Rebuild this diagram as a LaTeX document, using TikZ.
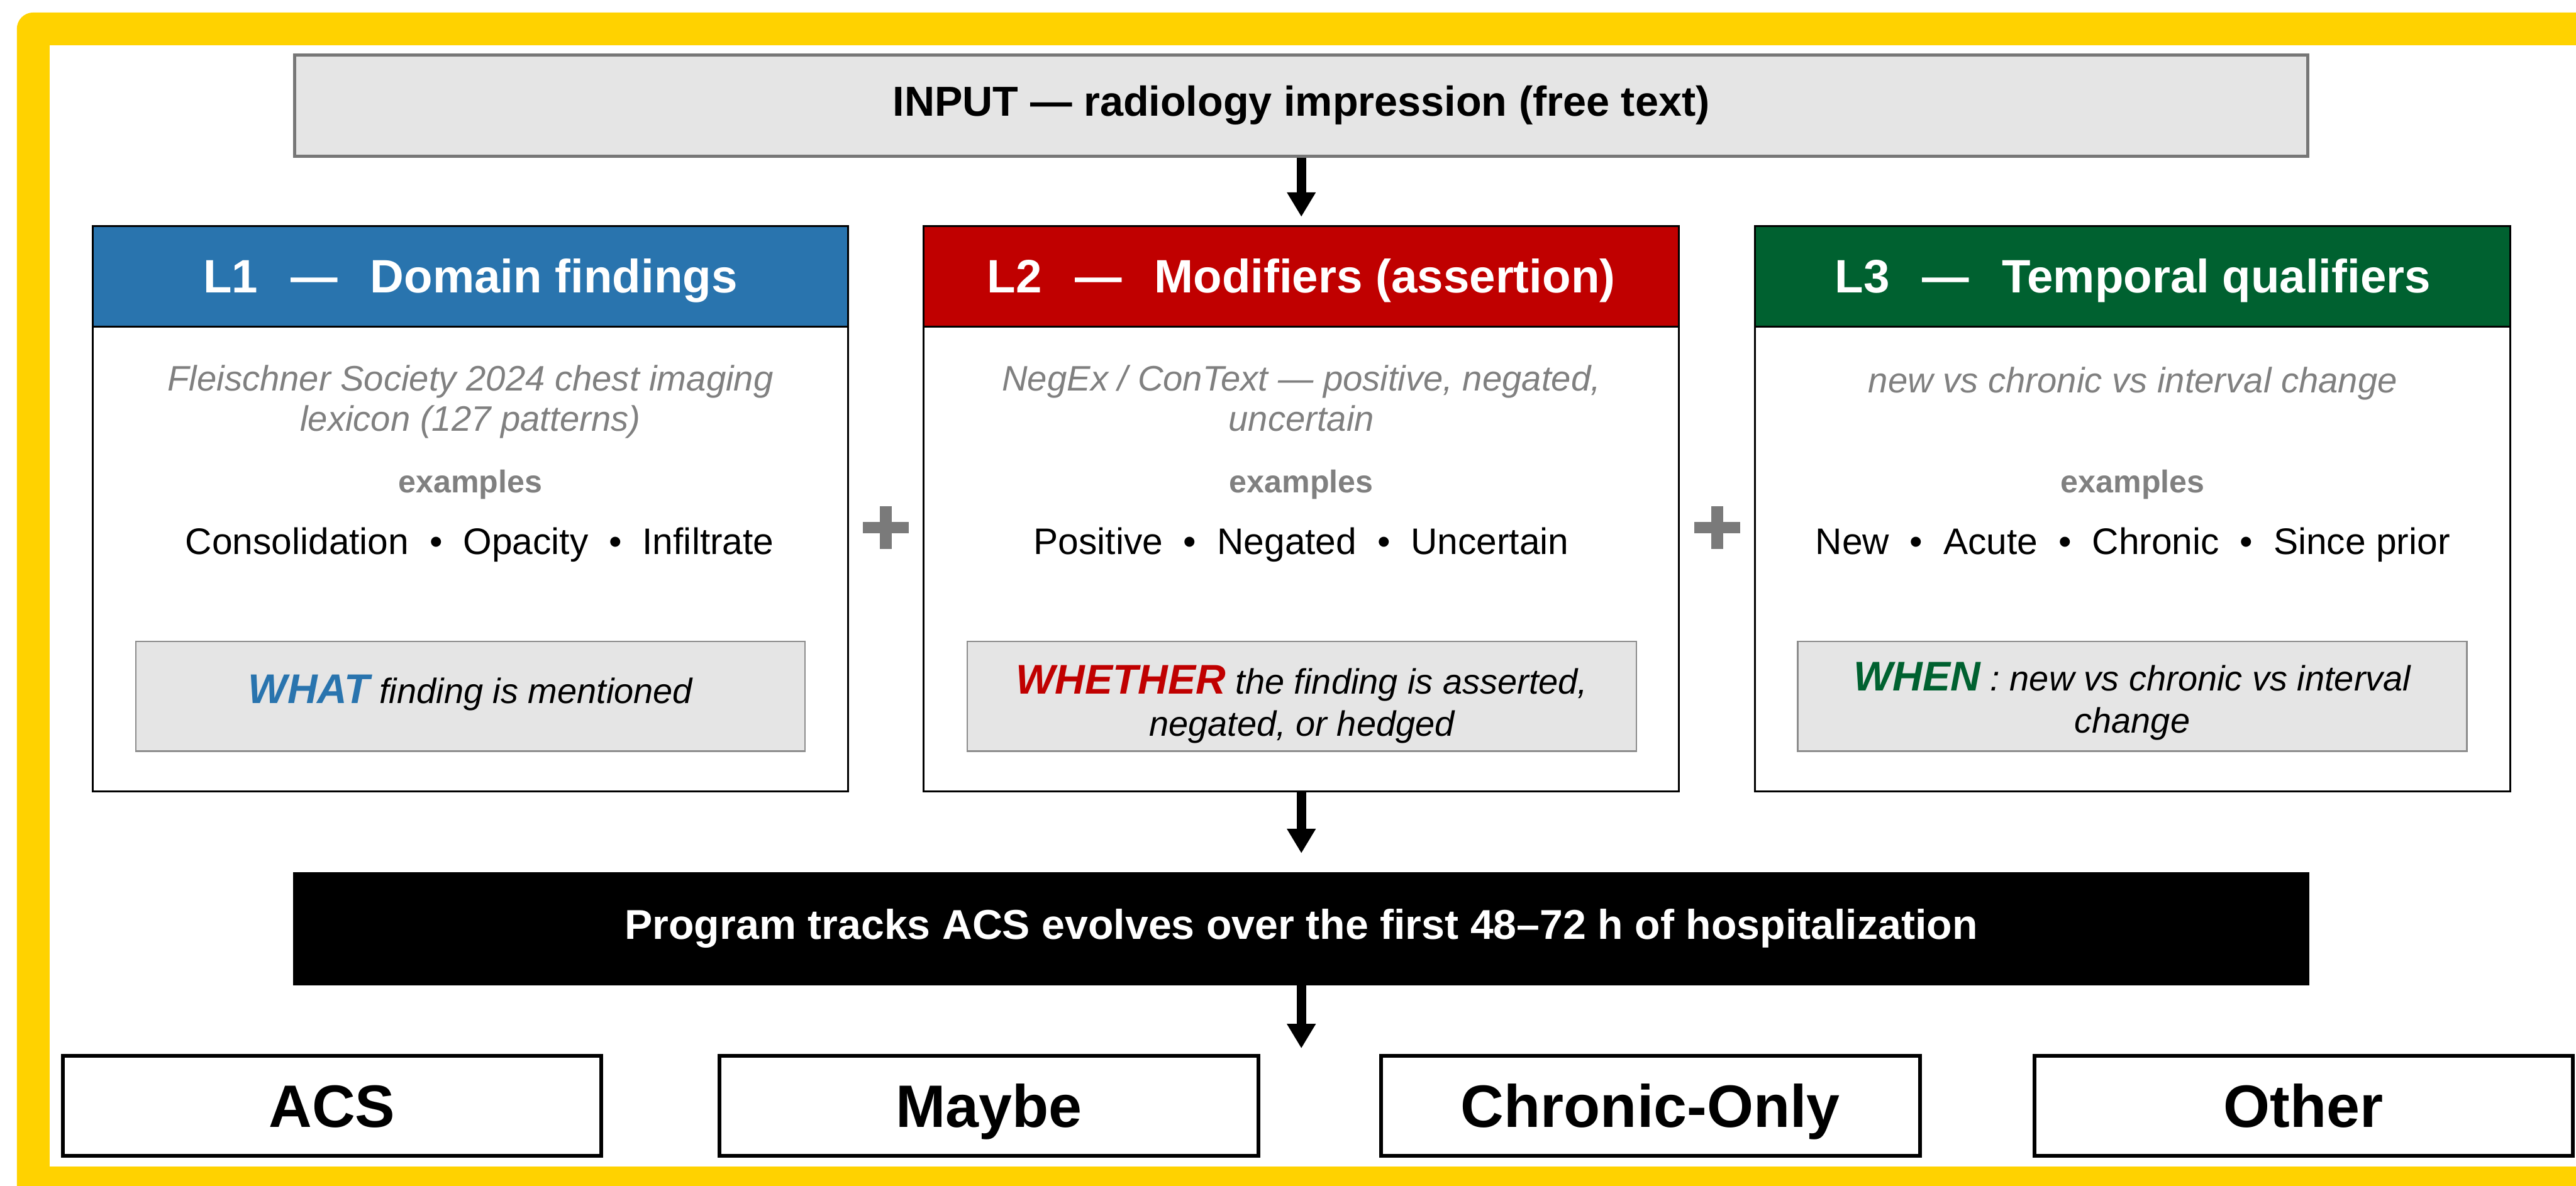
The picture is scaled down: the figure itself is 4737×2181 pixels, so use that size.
\documentclass[tikz,border=0pt]{standalone}
\usepackage{fontspec}
\setmainfont{Liberation Sans}
\usetikzlibrary{arrows.meta}

\definecolor{frameyellow}{HTML}{FFD200}
\definecolor{lblue}{HTML}{2974AE}
\definecolor{lred}{HTML}{C00000}
\definecolor{lgreen}{HTML}{006130}
\definecolor{subgray}{HTML}{808080}
\definecolor{notefill}{HTML}{E5E5E5}
\definecolor{noteline}{HTML}{8C8C8C}
\definecolor{inputline}{HTML}{777777}
\definecolor{plusgray}{HTML}{7A7A7A}

\newcommand{\dotsep}{\hspace{0.56em}•\hspace{0.56em}}
\newcommand{\notekey}[2]{{\color{#1}\bfseries\fontsize{21.7}{22}\selectfont #2}}

\begin{document}
\begin{tikzpicture}[x=0.01cm, y=-0.01cm,
    inputbox/.style={draw=inputline, line width=1.7pt, fill=notefill,
      minimum width=37cm, minimum height=1.86cm,
      font=\bfseries\fontsize{21.9}{26}\selectfont},
    layer/.style={draw=black, line width=1pt, minimum width=13.88cm, minimum height=10.4cm},
    header/.style={draw=black, line width=1pt, minimum width=13.88cm, minimum height=1.85cm,
      text=white, font=\bfseries\fontsize{24.5}{29}\selectfont,
      text height=17.5pt, text depth=0pt},
    subtitle/.style={anchor=north, inner sep=0pt, align=center, text=subgray,
      font=\itshape\fontsize{18.5}{21}\selectfont},
    exlabel/.style={anchor=base, inner sep=0pt, text=subgray,
      font=\bfseries\fontsize{16.5}{20}\selectfont},
    exline/.style={anchor=base, inner sep=0pt, font=\fontsize{19.3}{23}\selectfont},
    note/.style={draw=noteline, line width=0.85pt, fill=notefill,
      minimum width=12.3cm, minimum height=2.02cm},
    notetext/.style={inner sep=0pt, align=center, font=\itshape\fontsize{18.4}{22}\selectfont},
    bar/.style={fill=black, minimum width=37.05cm, minimum height=2.08cm, text=white,
      font=\bfseries\fontsize{21.8}{26}\selectfont},
    outbox/.style={draw=black, line width=2pt, minimum width=9.9cm, minimum height=1.84cm,
      font=\bfseries\fontsize{31.3}{36}\selectfont, text height=22.4pt, text depth=0pt},
    flow/.style={line width=4.8pt, -{Triangle[length=0.45cm, width=0.5cm]}}]

  % yellow frame
  \useasboundingbox (0,0) rectangle (4737,2181);
  \clip (0,0) rectangle (4737,2181);
  \fill[frameyellow, rounded corners=0.3cm] (31,23) rectangle (4900,2300);
  \fill[white] (91,83) rectangle (4900,2145);

  % input
  \node[inputbox] (input) at (2393,194) {INPUT — radiology impression (free text)};

  % L1
  \node[layer] (l1) at (865,935.5) {};
  \node[header, fill=lblue] (l1head) at (865,508) {L1\hspace{0.7em}—\hspace{0.7em}Domain findings};
  \node[subtitle] (l1sub) at (865,666)
    {\strut Fleischner Society 2024 chest imaging\\ lexicon (127 patterns)};
  \node[exlabel] (l1exlabel) at (865,906) {examples};
  \node[exline] (l1ex) at (882,1019) {Consolidation\dotsep Opacity\dotsep Infiltrate};
  \node[note] (l1note) at (865,1280.5) {};
  \node[notetext, anchor=base] (l1notetext) at (865,1294)
    {\notekey{lblue}{WHAT} finding is mentioned};

  % L2
  \node[layer] (l2) at (2393,935.5) {};
  \node[header, fill=lred] (l2head) at (2393,508) {L2\hspace{0.7em}—\hspace{0.7em}Modifiers (assertion)};
  \node[subtitle] (l2sub) at (2393,666)
    {\strut NegEx / ConText — positive, negated,\\ uncertain};
  \node[exlabel] (l2exlabel) at (2393,906) {examples};
  \node[exline] (l2ex) at (2393,1019) {Positive\dotsep Negated\dotsep Uncertain};
  \node[note] (l2note) at (2394,1280.5) {};
  \node[notetext, anchor=north] (l2notetext) at (2394,1221)
    {\strut\notekey{lred}{WHETHER} the finding is asserted,\\ negated, or hedged};

  % L3
  \node[layer] (l3) at (3922,935.5) {};
  \node[header, fill=lgreen] (l3head) at (3922,508) {L3\hspace{0.7em}—\hspace{0.7em}Temporal qualifiers};
  \node[subtitle] (l3sub) at (3922,670) {\strut new vs chronic vs interval change};
  \node[exlabel] (l3exlabel) at (3922,906) {examples};
  \node[exline] (l3ex) at (3922,1019) {New\dotsep Acute\dotsep Chronic\dotsep Since prior};
  \node[note] (l3note) at (3921,1280.5) {};
  \node[notetext, anchor=north] (l3notetext) at (3921,1216)
    {\strut\notekey{lgreen}{WHEN} : new vs chronic vs interval\\ change};

  % plus signs
  \fill[plusgray] (1587,959.5) rectangle (1671,980.5);
  \fill[plusgray] (1618,930.5) rectangle (1640,1009.5);
  \fill[plusgray] (3116,959.5) rectangle (3200,980.5);
  \fill[plusgray] (3147,930.5) rectangle (3169,1009.5);

  % program bar and outcomes
  \node[bar] (bar) at (2393,1708) {Program tracks ACS evolves over the first 48–72 h of hospitalization};
  \node[outbox] (acs) at (610.5,2033.5) {ACS};
  \node[outbox] (maybe) at (1818.5,2033.5) {Maybe};
  \node[outbox] (chronic) at (3035,2033.5) {Chronic-Only};
  \node[outbox] (other) at (4236,2033.5) {Other};
  \coordinate (fanout) at (2393,1928);

  \draw[flow, shorten >=0.15cm] (input) -- (l2head);
  \draw[flow, shorten >=0.34cm] (l2) -- (bar);
  \draw[flow] (bar) -- (fanout);
\end{tikzpicture}
\end{document}
